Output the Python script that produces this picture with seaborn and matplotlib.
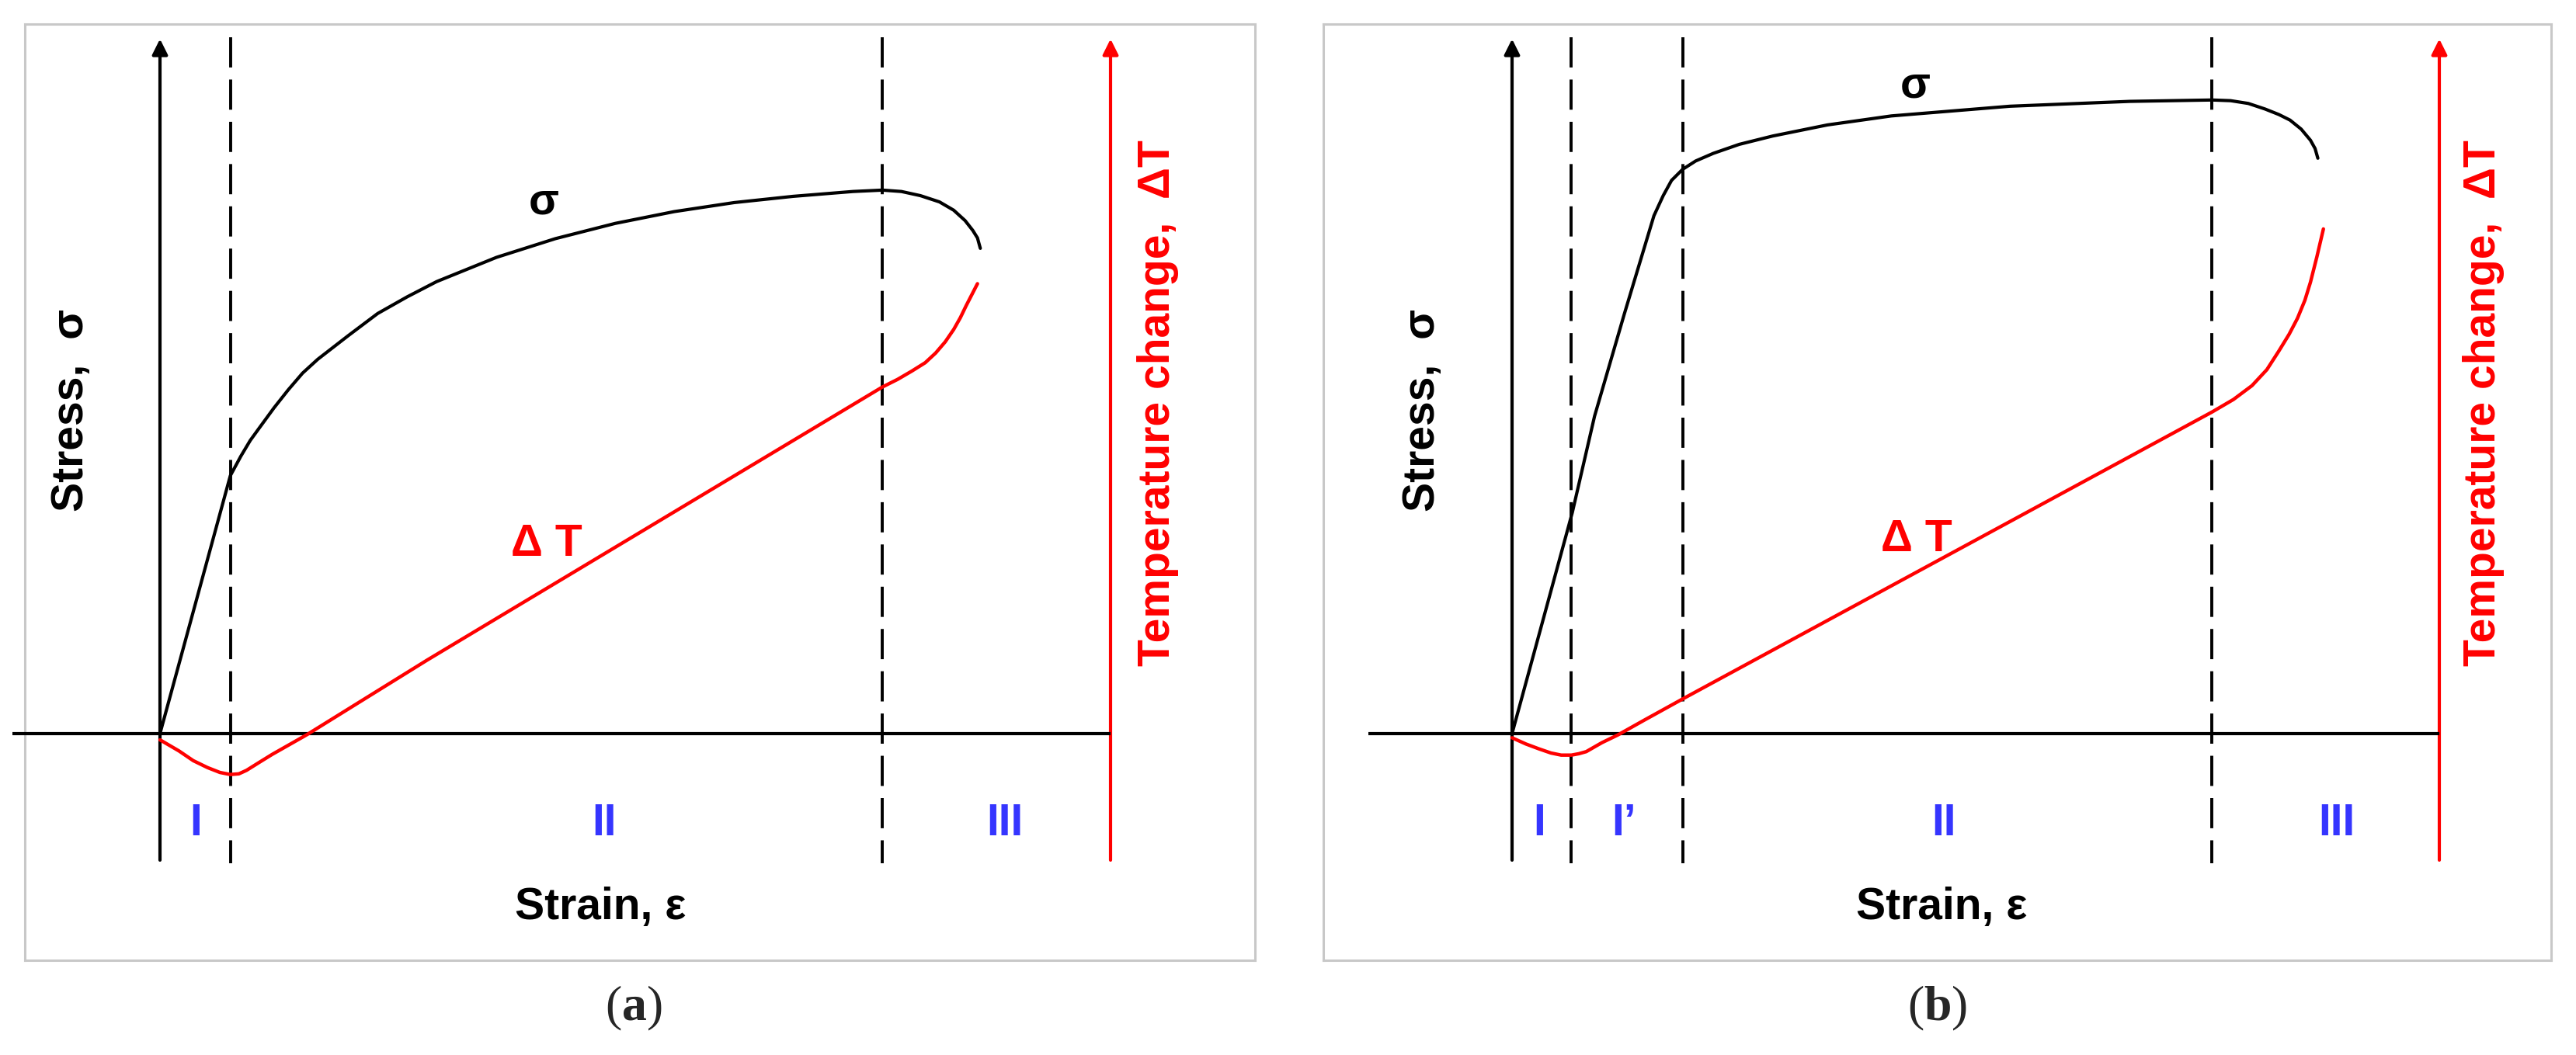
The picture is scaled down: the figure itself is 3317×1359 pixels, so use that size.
import matplotlib
matplotlib.use("Agg")
import matplotlib.pyplot as plt
import numpy as np
import pandas as pd
import seaborn as sns

# ------------------------------------------------------------------
# Data (strain: % of the drawn strain range, origin = 0, right axis = 100;
#       stress / temperature: % of the axis height, horizontal axis = 0)
# ------------------------------------------------------------------
# Panel (a)
strain_a_sigma = [0.0, 7.4, 8.5, 9.5, 10.4, 12.0, 13.5, 15.0, 16.6, 19.8, 22.9, 26.0,
                  29.1, 35.4, 41.6, 47.9, 54.1, 60.4, 66.6, 72.9, 76.0, 78.0, 80.0,
                  82.0, 83.5, 84.7, 85.5, 86.0, 86.3]
stress_a = [0.0, 37.2, 40.0, 42.3, 44.0, 47.0, 49.6, 52.0, 54.0, 57.4, 60.6, 63.0,
            65.2, 68.7, 71.4, 73.6, 75.3, 76.6, 77.5, 78.2, 78.4, 78.2, 77.6,
            76.7, 75.5, 74.0, 72.6, 71.5, 70.0]
strain_a_dT = [0.0, 2.0, 3.5, 5.0, 6.3, 7.4, 8.3, 9.1, 10.5, 11.8, 15.4, 28.1,
               76.0, 77.6, 79.1, 80.5, 81.6, 82.6, 83.5, 84.2, 84.8, 85.4, 86.0]
dT_a = [-0.9, -2.5, -3.9, -4.9, -5.6, -5.9, -5.8, -5.3, -4.1, -3.0, -0.2, 10.6,
        50.0, 51.1, 52.3, 53.5, 54.9, 56.5, 58.3, 60.0, 61.7, 63.3, 64.9]
bounds_a = [7.4, 76.0]
regions_a = ["I", "II", "III"]
regions_a_pos = [3.8, 46.7, 88.9]

# Panel (b)
strain_b_sigma = [0.0, 6.5, 8.9, 12.1, 15.3, 16.3, 17.2, 18.4, 19.8, 21.7, 24.5, 28.1,
                  34.0, 40.9, 53.7, 66.6, 75.5, 77.5, 79.4, 81.2, 82.7, 83.9, 85.1,
                  86.1, 86.6, 86.9]
stress_b = [0.0, 31.9, 45.8, 60.5, 74.7, 77.6, 79.8, 81.4, 82.6, 83.7, 85.0, 86.2,
            87.8, 89.1, 90.5, 91.2, 91.4, 91.3, 90.9, 90.1, 89.3, 88.5, 87.2,
            85.6, 84.4, 83.0]
strain_b_dT = [0.0, 1.5, 2.9, 4.2, 5.3, 6.4, 7.2, 8.0, 9.7, 11.4, 14.2, 18.4,
               75.5, 77.8, 79.8, 81.4, 82.7, 83.8, 84.7, 85.5, 86.1, 86.8, 87.5]
dT_b = [-0.6, -1.5, -2.2, -2.8, -3.1, -3.1, -2.9, -2.6, -1.3, -0.2, 1.9, 5.0,
        46.4, 48.2, 50.2, 52.5, 55.2, 57.6, 59.9, 62.5, 65.1, 68.8, 72.8]
bounds_b = [6.4, 18.4, 75.5]
regions_b = ["I", "I\u2019", "II", "III"]
regions_b_pos = [2.9, 12.1, 46.6, 88.9]

# ------------------------------------------------------------------
sns.set_theme(style="white")
plt.rcParams["font.family"] = ["Liberation Sans", "DejaVu Sans"]
plt.rcParams["mathtext.fontset"] = "custom"
plt.rcParams["mathtext.rm"] = "Liberation Serif"
plt.rcParams["mathtext.bf"] = "Liberation Serif:bold"

W, H = 3317, 1359
fig = plt.figure(figsize=(W / 100, H / 100), dpi=100)
fig.patch.set_facecolor("white")

RED = "#ff0000"
BLUE = "#3535ff"
FS = 41


def make_axes(box, origin, kx, ky):
    l, t, r, b = box
    ax = fig.add_axes([l / W, 1 - b / H, (r - l) / W, (b - t) / H])
    ox, oy = origin
    ax.set_xlim((l - ox) / kx, (r - ox) / kx)
    ax.set_ylim((oy - b) / ky, (oy - t) / ky)
    ax.set_xticks([])
    ax.set_yticks([])
    ax.set_facecolor("white")
    for sp in ax.spines.values():
        sp.set_visible(True)
        sp.set_color("#c8c8c8")
        sp.set_linewidth(2.2)
    return ax


def arrow_axis(ax, x, y0, y1, color):
    ax.annotate("", xy=(x, y1), xytext=(x, y0),
                arrowprops=dict(arrowstyle="-|>,head_length=0.6,head_width=0.3",
                                color=color, lw=3.0, shrinkA=0, shrinkB=0,
                                mutation_scale=20),
                annotation_clip=False, zorder=3)


def draw_panel(ax, es, ss, et, tt, bounds, regions, rpos,
               sig_lbl, dT_lbl, stress_lbl_x, temp_lbl_x):
    # frame axes
    arrow_axis(ax, 0, -18.25, 100.2, "black")
    arrow_axis(ax, 100, -18.25, 100.2, RED)
    ax.plot([-15.5, 100], [0, 0], color="black", lw=3.0, clip_on=False, zorder=3,
            solid_capstyle="butt")
    # stage boundaries
    for bx in bounds:
        ax.plot([bx, bx], [100.4, -18.7], color="black", lw=2.8,
                linestyle=(0, (10.0, 4.0)), zorder=2)
    # curves
    dfs = pd.DataFrame({"strain": es, "value": ss})
    dft = pd.DataFrame({"strain": et, "value": tt})
    sns.lineplot(data=dfs, x="strain", y="value", ax=ax, color="black", lw=3.0,
                 sort=False, estimator=None, legend=False, zorder=4)
    sns.lineplot(data=dft, x="strain", y="value", ax=ax, color=RED, lw=3.2,
                 sort=False, estimator=None, legend=False, zorder=5)
    for ln in ax.get_lines():
        ln.set_solid_joinstyle("round")
    ax.set_xlabel("")
    ax.set_ylabel("")
    ax.set_xticks([])
    ax.set_yticks([])
    # labels
    ax.text(sig_lbl[0], sig_lbl[1], "\u03c3", fontsize=FS, fontweight="bold",
            ha="center", va="center", color="black")
    ax.text(dT_lbl[0], dT_lbl[1], "\u0394 T", fontsize=FS, fontweight="bold",
            ha="center", va="center", color=RED)
    for lab, x in zip(regions, rpos):
        ax.text(x, -13.0, lab, fontsize=FS, fontweight="bold", ha="center",
                va="center", color=BLUE)
    ax.text(stress_lbl_x, 46.7, "Stress,  \u03c3", fontsize=FS, fontweight="bold",
            rotation=90, ha="center", va="center", color="black")
    ax.text(temp_lbl_x, 47.7, "Temperature change,  \u0394T", fontsize=FS,
            fontweight="bold", rotation=90, ha="center", va="center", color=RED)
    ax.text(46.3, -25.1, "Strain, \u03b5", fontsize=FS, fontweight="bold",
            ha="center", va="center", color="black")


ax_a = make_axes((32, 31, 1616, 1237), (206, 945), 12.24, 8.93)
ax_b = make_axes((1704, 31, 3285, 1237), (1947, 945), 11.94, 8.93)

draw_panel(ax_a, strain_a_sigma, stress_a, strain_a_dT, dT_a, bounds_a,
           regions_a, regions_a_pos, (40.4, 76.7), (40.7, 27.3), -9.3, 105.0)
draw_panel(ax_b, strain_b_sigma, stress_b, strain_b_dT, dT_b, bounds_b,
           regions_b, regions_b_pos, (43.5, 93.5), (43.6, 28.0), -9.6, 104.8)

fig.text(816 / W, 1 - 1299 / H, r"$\mathrm{(}\mathbf{a}\mathrm{)}$", fontsize=46,
         ha="center", va="center")
fig.text(2495 / W, 1 - 1299 / H, r"$\mathrm{(}\mathbf{b}\mathrm{)}$", fontsize=46,
         ha="center", va="center")

fig.savefig("out.png", dpi=100, facecolor="white")
